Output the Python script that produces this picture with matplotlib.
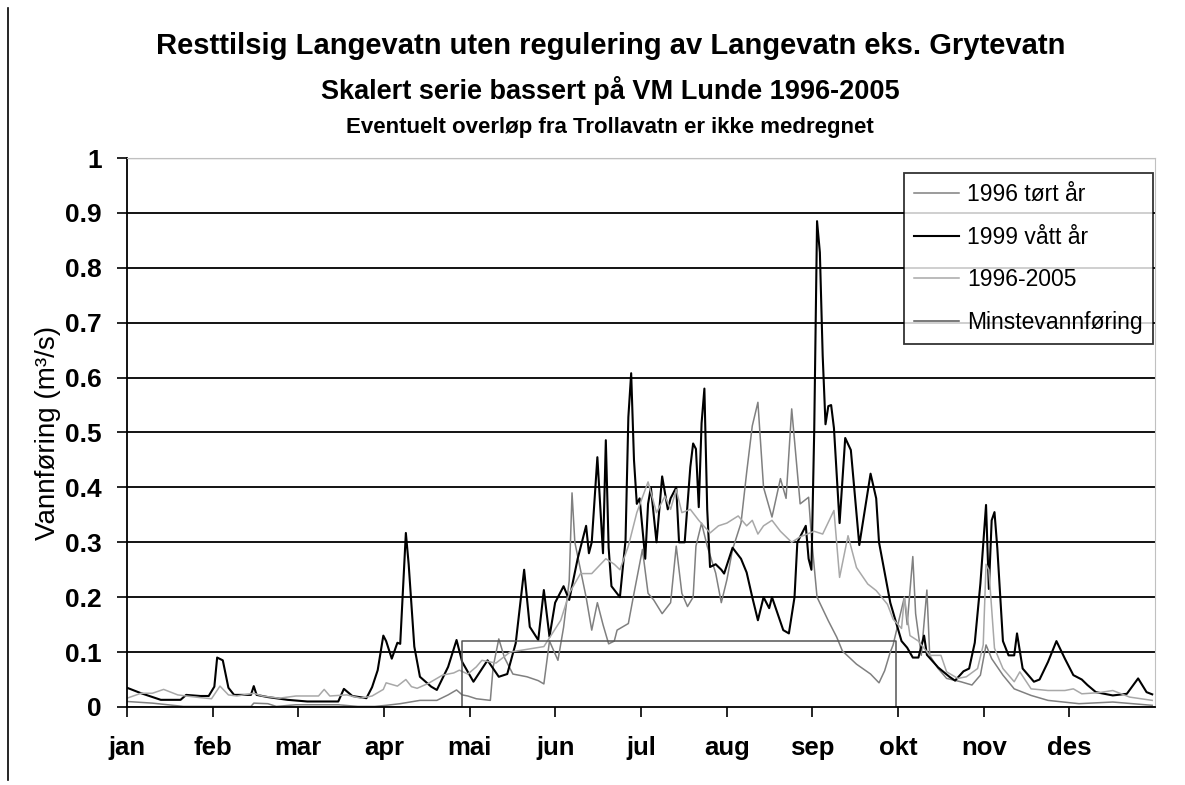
import matplotlib
matplotlib.use("Agg")
import matplotlib.pyplot as plt
from matplotlib.lines import Line2D
import numpy as np

plt.rcParams['font.family'] = ['Liberation Sans', 'DejaVu Sans']

months = ['jan', 'feb', 'mar', 'apr', 'mai', 'jun', 'jul', 'aug', 'sep', 'okt', 'nov', 'des']

# 1999 vått år (day of year, m3/s)
wet_day = [0, 5, 12, 19, 21, 26, 29, 31, 32, 34, 36, 38, 44, 45, 46, 50, 57, 64, 75, 77,
           80, 85, 87, 89, 91, 92, 94, 96, 97, 99, 100, 102, 104, 108, 110, 114, 117, 119, 123, 128,
           132, 135, 138, 141, 143, 146, 148, 150, 152, 155, 157, 160, 162, 163, 164, 165, 167, 169, 170, 171,
           172, 175, 177, 178, 179, 180, 181, 182, 184, 185, 186, 188, 190, 192, 193, 195, 196, 198, 200, 201,
           202, 203, 204, 205, 206, 207, 209, 211, 212, 215, 218, 220, 222, 224, 226, 228, 229, 233, 235, 237,
           238, 241, 242, 243, 244, 245, 246, 247, 248, 249, 250, 251, 253, 255, 257, 260, 264, 266, 267, 271,
           273, 275, 277, 279, 281, 283, 284, 288, 292, 294, 297, 299, 301, 303, 305, 306, 307, 308, 309, 311,
           313, 315, 316, 318, 322, 324, 327, 330, 333, 336, 339, 341, 344, 350, 355, 359, 362, 364]
wet_val = [0.035, 0.025, 0.013, 0.013, 0.022, 0.02, 0.02, 0.037, 0.09, 0.085, 0.035, 0.022, 0.022, 0.038, 0.022, 0.018, 0.013, 0.01, 0.01, 0.033,
           0.02, 0.016, 0.036, 0.067, 0.13, 0.12, 0.088, 0.117, 0.115, 0.317, 0.26, 0.11, 0.055, 0.037, 0.031, 0.073, 0.122, 0.082, 0.046, 0.085,
           0.055, 0.06, 0.116, 0.25, 0.146, 0.122, 0.213, 0.128, 0.19, 0.22, 0.195, 0.27, 0.31, 0.33, 0.28, 0.3, 0.455, 0.28, 0.486, 0.29,
           0.22, 0.2, 0.304, 0.528, 0.608, 0.45, 0.37, 0.38, 0.27, 0.37, 0.40, 0.3, 0.42, 0.36, 0.38, 0.40, 0.3, 0.3, 0.437, 0.48,
           0.47, 0.364, 0.517, 0.58, 0.36, 0.255, 0.26, 0.25, 0.243, 0.29, 0.27, 0.245, 0.2, 0.158, 0.2, 0.18, 0.2, 0.14, 0.134, 0.2,
           0.3, 0.33, 0.27, 0.25, 0.505, 0.885, 0.828, 0.64, 0.515, 0.548, 0.55, 0.508, 0.335, 0.49, 0.468, 0.295, 0.425, 0.38, 0.3, 0.19,
           0.155, 0.12, 0.108, 0.09, 0.09, 0.13, 0.095, 0.072, 0.055, 0.048, 0.065, 0.07, 0.117, 0.225, 0.368, 0.215, 0.34, 0.355, 0.29, 0.12,
           0.094, 0.094, 0.134, 0.07, 0.046, 0.05, 0.082, 0.12, 0.088, 0.058, 0.05, 0.04, 0.027, 0.021, 0.024, 0.052, 0.027, 0.023]

# 1996 tørt år
dry_day = [0, 9, 20, 44, 45, 50, 53, 60, 75, 82, 88, 92, 97, 104, 110, 114, 117, 119, 121, 124,
           129, 130, 132, 134, 137, 142, 146, 148, 150, 153, 155, 157, 158, 159, 161, 163, 165, 167, 169, 171,
           173, 174, 178, 180, 183, 185, 187, 190, 193, 195, 197, 199, 201, 202, 204, 206, 209, 211, 213, 215,
           218, 220, 222, 224, 226, 229, 232, 234, 236, 239, 242, 243, 245, 249, 252, 254, 259, 264, 267, 269,
           271, 272, 276, 277, 279, 280, 282, 284, 285, 288, 291, 296, 300, 303, 305, 307, 311, 315, 321, 327,
           338, 350, 364]
dry_val = [0.01, 0.007, 0.001, 0.001, 0.007, 0.006, 0.001, 0.004, 0.004, 0.001, 0.001, 0.003, 0.006, 0.012, 0.012, 0.022, 0.031, 0.022, 0.02, 0.015,
           0.012, 0.073, 0.124, 0.09, 0.06, 0.055, 0.048, 0.042, 0.12, 0.085, 0.145, 0.23, 0.39, 0.3, 0.25, 0.2, 0.14, 0.19, 0.15, 0.115,
           0.12, 0.14, 0.152, 0.207, 0.287, 0.207, 0.195, 0.17, 0.19, 0.293, 0.207, 0.183, 0.2, 0.293, 0.335, 0.293, 0.244, 0.19, 0.232, 0.287,
           0.335, 0.427, 0.512, 0.555, 0.40, 0.346, 0.416, 0.38, 0.543, 0.37, 0.382, 0.31, 0.2, 0.157, 0.127, 0.102, 0.078, 0.06, 0.044, 0.066,
           0.1, 0.113, 0.2, 0.15, 0.274, 0.17, 0.094, 0.213, 0.094, 0.07, 0.052, 0.046, 0.04, 0.058, 0.113, 0.088, 0.058, 0.033, 0.021, 0.012,
           0.006, 0.009, 0.003]

# 1996-2005 middel
avg_day = [0, 5, 9, 13, 15, 18, 21, 26, 30, 33, 36, 39, 45, 48, 54, 60, 68, 70, 72, 78,
           83, 87, 91, 92, 96, 99, 101, 103, 107, 112, 116, 118, 121, 124, 126, 131, 136, 142, 148, 154,
           157, 161, 165, 170, 173, 175, 178, 181, 185, 188, 191, 193, 195, 197, 200, 203, 207, 210, 213, 217,
           220, 222, 224, 226, 229, 232, 236, 239, 244, 247, 251, 253, 256, 259, 263, 266, 270, 272, 275, 276,
           278, 281, 285, 289, 291, 295, 298, 302, 304, 305, 306, 308, 311, 315, 317, 321, 327, 333, 336, 339,
           345, 350, 356, 364]
avg_val = [0.016, 0.025, 0.025, 0.032, 0.028, 0.022, 0.02, 0.017, 0.015, 0.038, 0.022, 0.02, 0.025, 0.02, 0.016, 0.02, 0.02, 0.032, 0.02, 0.022,
           0.016, 0.02, 0.032, 0.044, 0.038, 0.05, 0.037, 0.034, 0.043, 0.058, 0.062, 0.067, 0.06, 0.073, 0.085, 0.08, 0.1, 0.105, 0.11, 0.158,
           0.207, 0.243, 0.243, 0.27, 0.26, 0.25, 0.293, 0.354, 0.41, 0.354, 0.384, 0.36, 0.396, 0.354, 0.36, 0.34, 0.317, 0.33, 0.335, 0.348,
           0.33, 0.34, 0.315, 0.33, 0.34, 0.32, 0.3, 0.31, 0.32, 0.315, 0.358, 0.236, 0.312, 0.254, 0.224, 0.212, 0.187, 0.16, 0.143, 0.2,
           0.13, 0.12, 0.094, 0.094, 0.064, 0.052, 0.055, 0.07, 0.113, 0.26, 0.25, 0.107, 0.07, 0.046, 0.064, 0.033, 0.03, 0.03, 0.033, 0.024,
           0.026, 0.03, 0.018, 0.012]

# Minstevannføring
min_day = [0, 119, 119, 273, 273, 365]
min_val = [0, 0, 0.12, 0.12, 0, 0]

fig = plt.figure(figsize=(11.85, 7.85), dpi=100)
ax = fig.add_axes([0.1072, 0.0994, 0.8675, 0.6993])

ax.plot(dry_day, dry_val, color='#808080', lw=1.1, label='1996 tørt år')
ax.plot(wet_day, wet_val, color='black', lw=1.5, label='1999 vått år')
ax.plot(avg_day, avg_val, color='#a8a8a8', lw=1.1, label='1996-2005')
ax.plot(min_day, min_val, color='#555555', lw=1.1, label='Minstevannføring')

ax.set_xlim(0, 365)
ax.set_ylim(0, 1)
yt = np.round(np.arange(0, 1.01, 0.1), 1)
ax.set_yticks(yt)
ax.set_yticklabels([f'{v:g}' for v in yt], fontsize=19, fontweight='bold')
for v in yt[1:-1]:
    ax.axhline(v, color='black', lw=1.3, zorder=0)
ax.axhline(1.0, color='#b0b0b0', lw=1.0, zorder=0)

xt = np.arange(12) * 365 / 12
ax.set_xticks(xt)
ax.set_xticklabels(months, fontsize=18.5, fontweight='bold')
ax.tick_params(axis='x', direction='out', length=7, width=1.2, pad=14)
ax.tick_params(axis='y', direction='out', length=7, width=1.2, pad=11)

ax.spines['left'].set_linewidth(1.3)
ax.spines['bottom'].set_linewidth(1.3)
ax.spines['top'].set_color('#c0c0c0')
ax.spines['right'].set_color('#c0c0c0')

ax.set_ylabel('Vannføring (m³/s)', fontsize=20, labelpad=3)

leg = ax.legend(loc='upper right', bbox_to_anchor=(1153 / 1185, 1 - 173 / 785), bbox_transform=fig.transFigure,
                fontsize=16.5, frameon=True, fancybox=False, edgecolor='black', handlelength=1.95,
                labelspacing=0.85, borderpad=0.45, handletextpad=0.35, borderaxespad=0)
leg.get_frame().set_linewidth(1.3)

fig.text(0.515, 0.942, 'Resttilsig Langevatn uten regulering av Langevatn eks. Grytevatn',
         ha='center', va='center', fontsize=21, fontweight='bold')
fig.text(0.515, 0.885, 'Skalert serie bassert på VM Lunde 1996-2005',
         ha='center', va='center', fontsize=19.5, fontweight='bold')
fig.text(0.515, 0.838, 'Eventuelt overløp fra Trollavatn er ikke medregnet',
         ha='center', va='center', fontsize=16, fontweight='bold')

fig.add_artist(Line2D([8 / 1185, 8 / 1185], [1 - 8 / 785, 1 - 780 / 785], color='black', lw=1.2))

fig.savefig('out.png', dpi=100)
